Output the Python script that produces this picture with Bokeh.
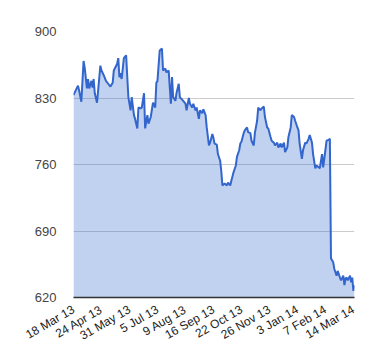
from bokeh.plotting import figure
from bokeh.models import Range1d, FixedTicker
from bokeh.embed import file_html
from bokeh.resources import INLINE
import math

# trading-session index (0 = 18 Mar 13) and price
session = [0, 2, 4, 5, 7, 9, 10, 12, 13, 14, 16, 17, 18, 19, 21, 24, 25, 27, 29, 31,
           33, 35, 36, 39, 40, 41, 42, 43, 45, 47, 49, 51, 52, 54, 55, 57, 58, 60, 61, 63,
           64, 66, 67, 69, 71, 73, 74, 75, 77, 79, 80, 82, 83, 85, 86, 87, 88, 89, 91, 92,
           94, 95, 98, 100, 101, 103, 104, 106, 107, 109, 110, 112, 113, 115, 116, 118, 119, 121, 122, 124,
           125, 126, 128, 129, 131, 132, 133, 135, 137, 138, 140, 141, 143, 145, 146, 148, 149, 150, 152, 153,
           155, 156, 158, 159, 161, 162, 164, 165, 167, 168, 170, 171, 173, 174, 176, 177, 179, 180, 182, 183,
           185, 186, 188, 189, 191, 192, 194, 195, 197, 198, 200, 201, 202, 204, 205, 207, 208, 210, 211, 213,
           214, 216, 217, 219, 220, 222, 223, 225, 226, 228, 229, 230, 232, 233, 235, 236, 238, 239, 241, 242,
           243, 244, 245, 247, 248, 249, 250, 251]
price = [833, 838, 843, 838, 826, 869, 862, 840, 850, 840, 848, 841, 850, 835, 825, 864, 859, 854, 848, 845,
         842, 846, 859, 866, 872, 852, 856, 850, 872, 875, 831, 817, 831, 812, 808, 798, 820, 819, 820, 835,
         798, 812, 803, 810, 825, 820, 846, 848, 880, 882, 859, 861, 857, 859, 841, 824, 852, 831, 827, 835,
         845, 831, 827, 824, 817, 830, 824, 820, 824, 817, 820, 808, 817, 814, 818, 812, 799, 780, 783, 792,
         788, 782, 781, 771, 764, 753, 738, 740, 738, 741, 738, 743, 752, 759, 768, 775, 782, 784, 793, 796,
         799, 794, 793, 785, 780, 793, 806, 820, 817, 819, 821, 810, 799, 798, 789, 785, 783, 780, 783, 778,
         782, 778, 783, 773, 778, 789, 799, 812, 810, 806, 799, 796, 782, 766, 775, 783, 782, 787, 791, 783,
         771, 756, 759, 757, 756, 771, 757, 775, 785, 786, 787, 661, 657, 650, 643, 648, 641, 638, 643, 633,
         640, 641, 638, 643, 636, 641, 627, 633]

tick_pos = [0, 25, 50, 75, 100, 125, 150, 175, 200, 225, 250]
tick_labels = ["18 Mar 13", "24 Apr 13", "31 May 13", "5 Jul 13", "9 Aug 13", "16 Sep 13",
               "22 Oct 13", "26 Nov 13", "3 Jan 14", "7 Feb 14", "14 Mar 14"]
y_ticks = [620, 690, 760, 830, 900]

p = figure(output_backend="svg", toolbar_location=None,
           frame_width=281, frame_height=266,
           min_border_left=73, min_border_right=18, min_border_top=31, min_border_bottom=55,
           x_range=Range1d(0, 251), y_range=Range1d(620, 900))
p.outline_line_color = None
p.background_fill_color = "white"
p.border_fill_color = "white"

p.varea(x=session, y1=[y_ticks[0]] * len(session), y2=price, fill_color="#3366cc", fill_alpha=0.3)
p.line(x=session, y=price, line_color="#3366cc", line_width=2)

p.xgrid.visible = False
p.ygrid.ticker = FixedTicker(ticks=y_ticks)
p.ygrid.grid_line_color = "#cccccc"

p.yaxis.ticker = FixedTicker(ticks=y_ticks)
p.yaxis.axis_line_color = None
p.yaxis.major_tick_line_color = None
p.yaxis.minor_tick_line_color = None
p.yaxis.major_label_standoff = 11
p.yaxis.major_label_text_font = "Liberation Sans"
p.yaxis.major_label_text_font_size = "13px"
p.yaxis.major_label_text_color = "#444444"

p.xaxis.ticker = FixedTicker(ticks=tick_pos)
p.xaxis.major_label_overrides = {t: l for t, l in zip(tick_pos, tick_labels)}
p.xaxis.major_label_orientation = math.pi / 6
p.xaxis.axis_line_color = "#333333"
p.xaxis.axis_line_width = 1.5
p.xaxis.major_tick_line_color = None
p.xaxis.minor_tick_line_color = None
p.xaxis.major_label_standoff = 5
p.xaxis.major_label_text_font = "Liberation Sans"
p.xaxis.major_label_text_font_size = "12px"
p.xaxis.major_label_text_color = "#222222"

open("out.html", "w").write(file_html(p, INLINE))
